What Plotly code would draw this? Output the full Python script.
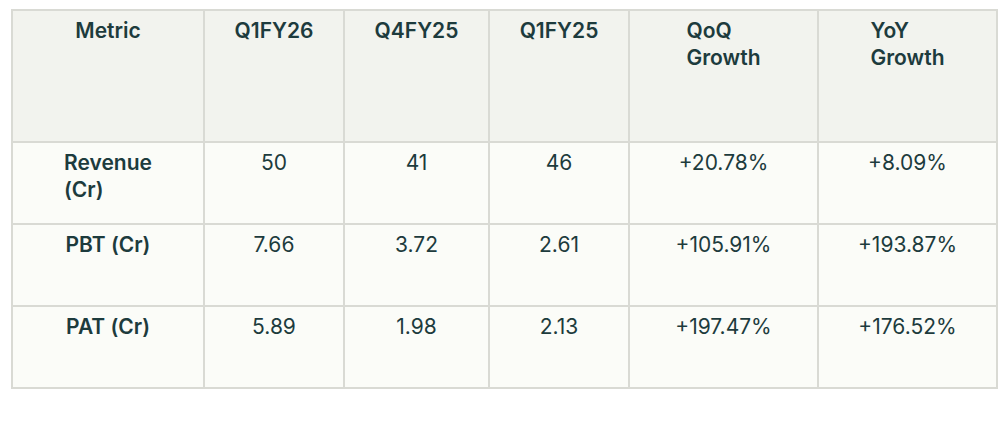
import plotly.graph_objects as go

headers = ["Metric", "Q1FY26", "Q4FY25", "Q1FY25", "QoQ<br>Growth", "YoY<br>Growth"]
metrics = ["Revenue<br>(Cr)<br>", "PBT (Cr)", "PAT (Cr)"]
q1fy26 = ["50", "7.66", "5.89"]
q4fy25 = ["41", "3.72", "1.98"]
q1fy25 = ["46", "2.61", "2.13"]
qoq = ["+20.78%", "+105.91%", "+197.47%"]
yoy = ["+8.09%", "+193.87%", "+176.52%"]
col_widths = [192, 140, 145, 140, 189, 179]

txt = "#1d3b3d"
border = "#d9dad4"
pad = lambda col: ["<br>" + v for v in col]
fig = go.Figure(go.Table(
    columnwidth=col_widths,
    header=dict(values=pad(headers), fill_color="#f2f3ee",
                line_color=border, line_width=2, align="center", height=132,
                font=dict(family="Inter", size=21, color=txt, weight=600)),
    cells=dict(values=[pad(c) for c in [metrics, q1fy26, q4fy25, q1fy25, qoq, yoy]],
               fill_color="#fbfcf8",
               line_color=border, line_width=2, align="center", height=82,
               font=dict(family="Inter", size=21, color=txt,
                         weight=[600, 400, 400, 400, 400, 400])),
))
fig.update_layout(width=1007, height=434, margin=dict(l=4, r=18, t=2, b=0),
                  paper_bgcolor="white")
fig.write_html("out.html")
